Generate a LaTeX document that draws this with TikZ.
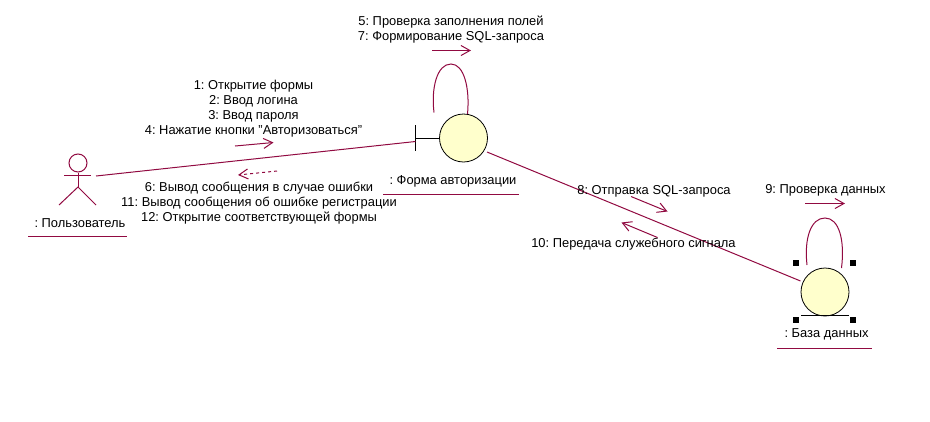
\documentclass[tikz,border=0pt]{standalone}
\usepackage{fontspec}
\setmainfont{Liberation Sans}
\usetikzlibrary{arrows.meta}
\definecolor{linkcol}{RGB}{145,10,65}
\definecolor{objfill}{RGB}{255,255,204}
\frenchspacing
\tikzset{
  obj/.style={circle, draw=black, fill=objfill, line width=0.8pt, minimum size=48pt, inner sep=0pt},
  link/.style={draw=linkcol, line width=1pt},
  msg/.style={link, -{Straight Barb[length=9pt,width=10pt]}},
  txt/.style={font=\fontsize{12.9}{15}\selectfont, align=center, inner sep=0pt},
  handle/.style={fill=black, draw=none, minimum size=6pt, inner sep=0pt},
}
\begin{document}
\frenchspacing
\begin{tikzpicture}[x=1pt,y=-1pt]
  \useasboundingbox (0,0) rectangle (930,421);
  % actor
  \node[circle, draw=linkcol, line width=1pt, minimum size=18pt, inner sep=0pt] (head) at (78,163) {};
  \coordinate (armL) at (64,175);
  \coordinate (armR) at (91,175);
  \coordinate (hip) at (78,187);
  \coordinate (legL) at (59,205);
  \coordinate (legR) at (96,205);
  \draw[link] (armL) -- (armR);
  \draw[link] (head) -- (hip);
  \draw[link] (legL) -- (hip) -- (legR);
  \node[txt] (userlbl) at (80,223.5) {: Пользователь};
  \coordinate (userU1) at (28,236);
  \coordinate (userU2) at (127,236);
  \draw[link] (userU1) -- (userU2);
  % form
  \node[obj] (form) at (463.5,138) {};
  \coordinate (formT) at (415.5,138);
  \coordinate (formT1) at (415.5,125);
  \coordinate (formT2) at (415.5,151);
  \coordinate (formIn) at (415.5,141.5);
  \coordinate (userOut) at (96,176);
  \draw[black, line width=0.8pt] (form) -- (formT);
  \draw[black, line width=0.8pt] (formT1) -- (formT2);
  \draw[link] (userOut) -- (formIn);
  \node[txt] (formlbl) at (453,181) {: Форма авторизации};
  \coordinate (formU1) at (383,194);
  \coordinate (formU2) at (519,194);
  \draw[link] (formU1) -- (formU2);
  \coordinate (loopA1) at (434,112.5);
  \coordinate (loopA2) at (467.5,114);
  \draw[link] (loopA1) .. controls (431,88) and (437,64) .. (451,64)
    .. controls (464,64) and (470,88) .. (loopA2);
  % database
  \node[obj] (db) at (825,292) {};
  \coordinate (dbB1) at (801,315.5);
  \coordinate (dbB2) at (849,315.5);
  \draw[black, line width=0.8pt] (dbB1) -- (dbB2);
  \coordinate (formOut) at (487,152);
  \coordinate (dbIn) at (800.5,281);
  \draw[link] (formOut) -- (dbIn);
  \node[handle] (h1) at (796,263) {};
  \node[handle] (h2) at (853,263) {};
  \node[handle] (h3) at (796,319.5) {};
  \node[handle] (h4) at (853,319.5) {};
  \node[txt] (dblbl) at (826.5,334) {: База данных};
  \coordinate (dbU1) at (777,348);
  \coordinate (dbU2) at (872,348);
  \draw[link] (dbU1) -- (dbU2);
  \coordinate (loopB1) at (807,265);
  \coordinate (loopB2) at (841.5,268);
  \draw[link] (loopB1) .. controls (804,238) and (811,218) .. (825,218)
    .. controls (839,218) and (845,240) .. (loopB2);
  % messages
  \node[txt] (msgA) at (253.5,108.5) {1: Открытие формы\\2: Ввод логина\\3: Ввод пароля\\4: Нажатие кнопки "Авторизоваться"};
  \coordinate (msgA1) at (235,146);
  \coordinate (msgA2) at (273.5,142.5);
  \draw[msg] (msgA1) -- (msgA2);
  \node[txt] (msgB) at (259,203) {6: Вывод сообщения в случае ошибки\\11: Вывод сообщения об ошибке регистрации\\12: Открытие соответствующей формы};
  \coordinate (msgB1) at (277,171);
  \coordinate (msgB2) at (238,175);
  \draw[msg, dashed] (msgB1) -- (msgB2);
  \node[txt] (msgC) at (451,29.5) {5: Проверка заполнения полей\\7: Формирование SQL-запроса};
  \coordinate (msgC1) at (432,50.5);
  \coordinate (msgC2) at (471,50.5);
  \draw[msg] (msgC1) -- (msgC2);
  \node[txt] (msgD) at (654,191) {8: Отправка SQL-запроса};
  \coordinate (msgD1) at (631,196.5);
  \coordinate (msgD2) at (667.5,211.5);
  \draw[msg] (msgD1) -- (msgD2);
  \node[txt] (msgE) at (633.5,244) {10: Передача служебного сигнала};
  \coordinate (msgE1) at (657.5,237.5);
  \coordinate (msgE2) at (621.5,222.5);
  \draw[msg] (msgE1) -- (msgE2);
  \node[txt] (msgF) at (825.5,190) {9: Проверка данных};
  \coordinate (msgF1) at (805,203.5);
  \coordinate (msgF2) at (845,203.5);
  \draw[msg] (msgF1) -- (msgF2);
\end{tikzpicture}
\end{document}
